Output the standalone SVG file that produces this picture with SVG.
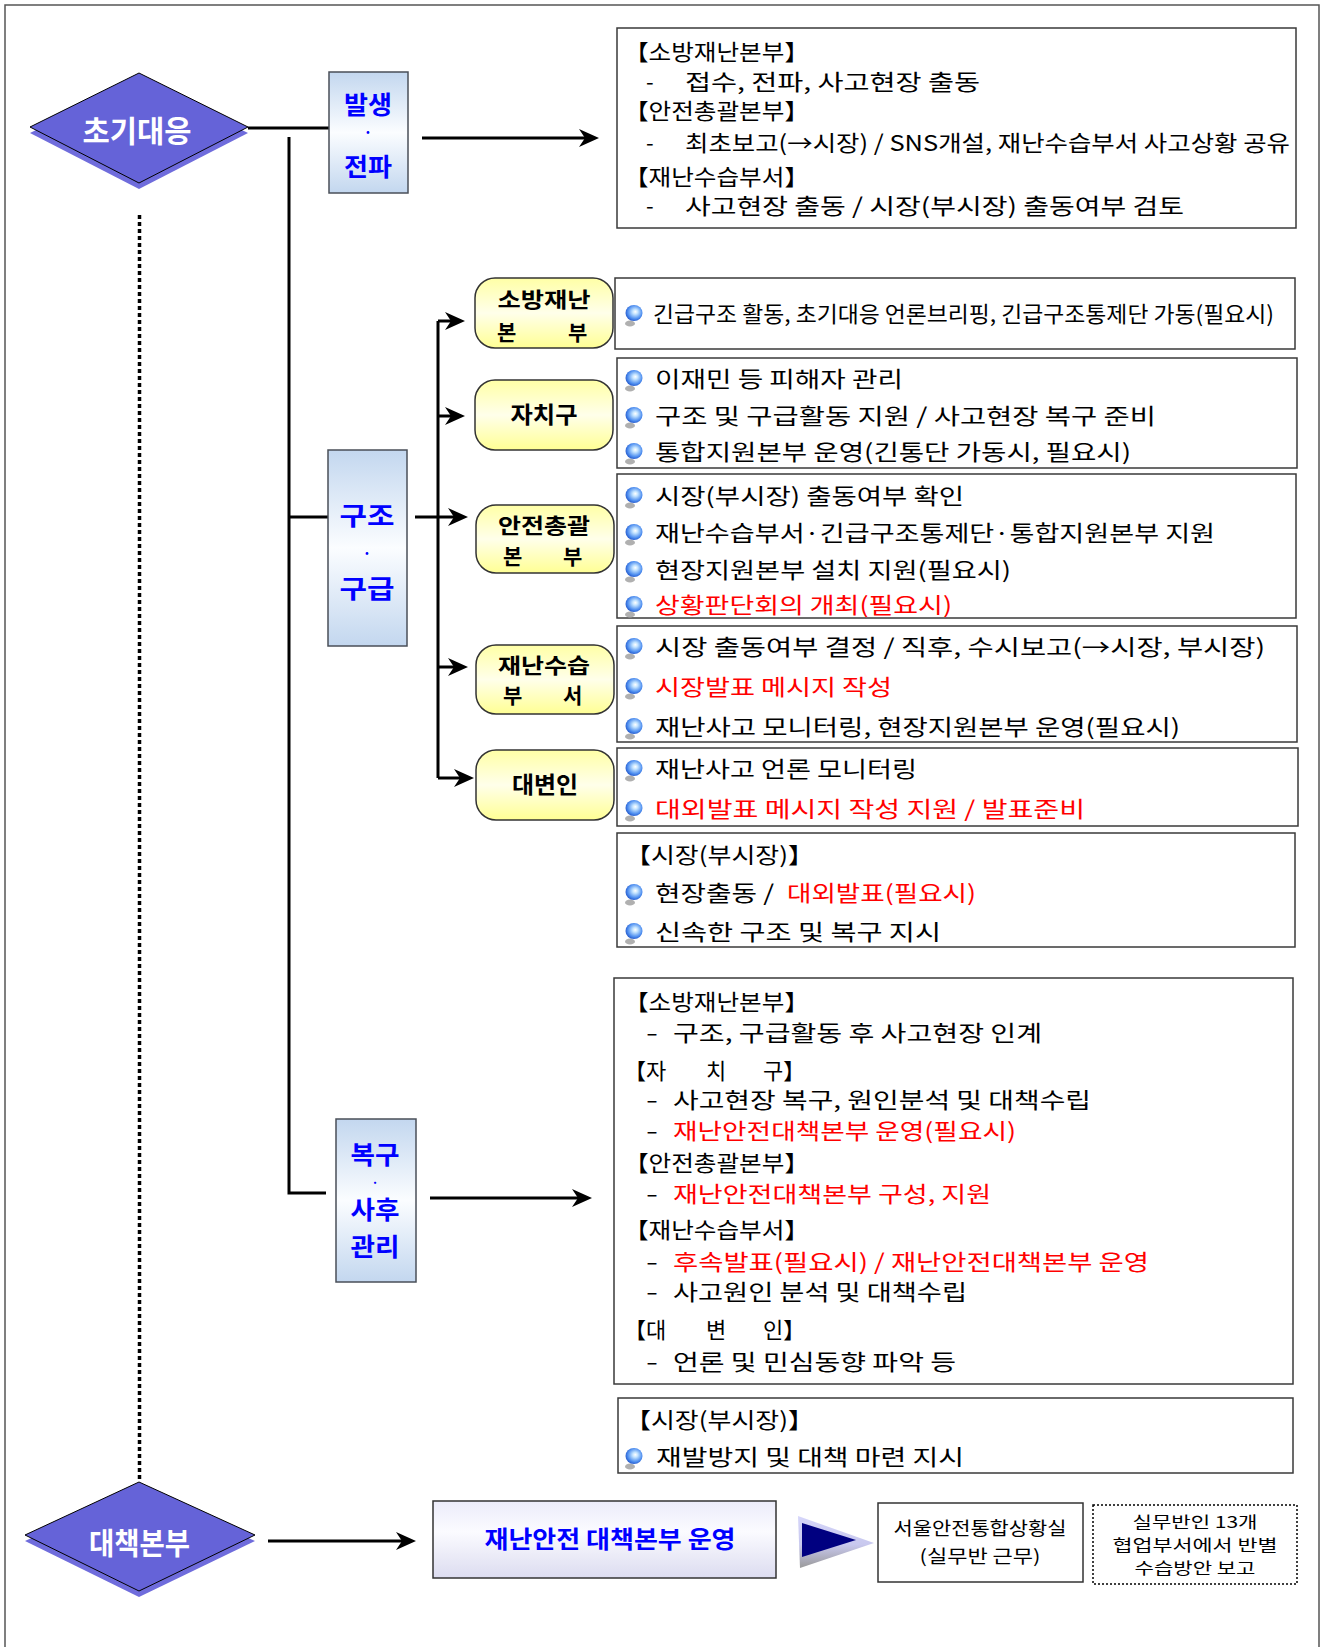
<svg xmlns="http://www.w3.org/2000/svg" xmlns:xlink="http://www.w3.org/1999/xlink" width="1321" height="1647" viewBox="0 0 1321 1647">
<style>
.t{font-family:"Noto Sans CJK KR","Noto Sans",sans-serif;font-size:22px;fill:#000}
.r{fill:#ff0000}
.box{fill:#fff;stroke:#3a3a3a;stroke-width:1.5}
.yb{fill:url(#gy);stroke:#333;stroke-width:1.5}
.bb{fill:url(#gb);stroke:#4a4f58;stroke-width:1.5}
.lb{font-family:"Noto Sans CJK KR","Noto Sans",sans-serif;font-weight:bold;font-size:23px;fill:#000}
.l2{font-size:21px}
.bl{font-family:"Noto Sans CJK KR","Noto Sans",sans-serif;font-weight:bold;font-size:25px;fill:#0000ff;text-anchor:middle}
.wt{font-family:"Noto Sans CJK KR","Noto Sans",sans-serif;font-weight:bold;font-size:30px;fill:#fff;text-anchor:middle}
.ln{stroke:#000;stroke-width:3;fill:none}
.ar{marker-end:url(#ah)}
.m{text-anchor:middle}
</style>
<defs>
<linearGradient id="gb" x1="0" y1="0" x2="0" y2="1"><stop offset="0" stop-color="#c3d7ef"/><stop offset="0.5" stop-color="#fbfdff"/><stop offset="1" stop-color="#c3d7ef"/></linearGradient>
<linearGradient id="gy" x1="0" y1="0" x2="0" y2="1"><stop offset="0" stop-color="#ffffa6"/><stop offset="0.5" stop-color="#ffffea"/><stop offset="1" stop-color="#ffff94"/></linearGradient>
<linearGradient id="gl" x1="0" y1="0" x2="0" y2="1"><stop offset="0" stop-color="#ececfa"/><stop offset="0.4" stop-color="#fbfbff"/><stop offset="1" stop-color="#dcdcf0"/></linearGradient>
<linearGradient id="gt" x1="0" y1="0" x2="0" y2="1"><stop offset="0" stop-color="#d6d6fa"/><stop offset="0.55" stop-color="#c8c8ee"/><stop offset="1" stop-color="#9a9a9a"/></linearGradient>
<radialGradient id="gs" cx="0.55" cy="0.45" r="0.6" fx="0.58" fy="0.42"><stop offset="0" stop-color="#ffffff"/><stop offset="0.25" stop-color="#c4e4ff"/><stop offset="0.7" stop-color="#4f8ff0"/><stop offset="1" stop-color="#1d4fc4"/></radialGradient>
<g id="bu"><ellipse cx="-4" cy="10.5" rx="5" ry="3" fill="#b0b0b0"/><ellipse rx="8.5" ry="8" fill="url(#gs)"/></g>
<marker id="ah" markerUnits="userSpaceOnUse" markerWidth="20" markerHeight="22" viewBox="0 0 20 22" refX="12" refY="11" orient="auto"><path d="M0,2 L20,11 L0,20 L6,11 z" fill="#000"/></marker>
</defs>

<g id="frame" fill="none" stroke="#555" stroke-width="1.5">
<path d="M5,1647 V5 H1319 V1647"/>
</g>

<g id="connectors">
<path class="ln" d="M248,128 H329"/>
<path class="ln" d="M289,137 V1193 H326"/>
<path class="ln" d="M289,517 H328"/>
<path class="ln ar" d="M422,138 H591"/>
<path class="ln ar" d="M415,517 H460"/>
<path class="ln" d="M438,321 V778"/>
<path class="ln ar" d="M438,321 H457"/>
<path class="ln ar" d="M438,416 H457"/>
<path class="ln ar" d="M438,667 H460"/>
<path class="ln ar" d="M438,778 H466"/>
<path class="ln ar" d="M430,1198 H584"/>
<path class="ln ar" d="M268,1541 H408"/>
<path d="M139.5,215 V1480" stroke="#000" stroke-width="3.5" stroke-dasharray="4,3" fill="none"/>
</g>

<g id="n-chogi">
<polygon points="139,79 248,133 139,189 30,133" fill="#6f6cdc"/>
<polygon points="139,73 248,127 139,183 30,127" fill="#6563d8" stroke="#000" stroke-width="1"/>
<text class="wt" x="137" y="142" textLength="109" lengthAdjust="spacingAndGlyphs">초기대응</text>
</g>

<g id="n-balsaeng">
<rect class="bb" x="329" y="72" width="79" height="121"/>
<text class="bl"><tspan x="368" y="114" textLength="48" lengthAdjust="spacingAndGlyphs">발생</tspan><tspan x="368" y="138" style="font-size:15px">·</tspan><tspan x="368" y="176" textLength="48" lengthAdjust="spacingAndGlyphs">전파</tspan></text>
</g>

<g id="n-b1">
<rect class="box" x="617" y="28" width="679" height="200"/>
<text class="t" x="624" y="59.5" textLength="185" lengthAdjust="spacingAndGlyphs">【소방재난본부】</text>
<text class="t" x="646" y="89.5">-</text>
<text class="t" x="685" y="89.5" textLength="295" lengthAdjust="spacingAndGlyphs">접수, 전파, 사고현장 출동</text>
<text class="t" x="624" y="118.5" textLength="185" lengthAdjust="spacingAndGlyphs">【안전총괄본부】</text>
<text class="t" x="646" y="150.5">-</text>
<text class="t" x="685" y="150.5" textLength="605" lengthAdjust="spacingAndGlyphs">최초보고(→시장) / SNS개설, 재난수습부서 사고상황 공유</text>
<text class="t" x="624" y="184.5" textLength="185" lengthAdjust="spacingAndGlyphs">【재난수습부서】</text>
<text class="t" x="646" y="213.5">-</text>
<text class="t" x="685" y="213.5" textLength="499" lengthAdjust="spacingAndGlyphs">사고현장 출동 / 시장(부시장) 출동여부 검토</text>
</g>

<g id="n-gujo">
<rect class="bb" x="328" y="450" width="79" height="196"/>
<text class="bl"><tspan x="367" y="525" textLength="55" lengthAdjust="spacingAndGlyphs">구조</tspan><tspan x="367" y="559" style="font-size:15px">·</tspan><tspan x="367" y="598" textLength="55" lengthAdjust="spacingAndGlyphs">구급</tspan></text>
</g>

<g id="n-sobang">
<rect class="yb" x="475" y="278" width="138" height="70" rx="20"/>
<text class="lb l2"><tspan class="m" x="544" y="307" textLength="93" lengthAdjust="spacingAndGlyphs">소방재난</tspan><tspan x="497" y="340">본</tspan><tspan x="568" y="340">부</tspan></text>
</g>
<g id="n-sobang-txt">
<rect class="box" x="615" y="278" width="680" height="71"/>
<use xlink:href="#bu" href="#bu" x="634" y="313"/>
<text class="t" x="653" y="321.5" textLength="621" lengthAdjust="spacingAndGlyphs">긴급구조 활동, 초기대응 언론브리핑, 긴급구조통제단 가동(필요시)</text>
</g>

<g id="n-jachigu">
<rect class="yb" x="475" y="380" width="138" height="70" rx="20"/>
<text class="lb m" x="544" y="423" textLength="67" lengthAdjust="spacingAndGlyphs">자치구</text>
</g>
<g id="n-jachigu-txt">
<rect class="box" x="617" y="358" width="680" height="110"/>
<use xlink:href="#bu" href="#bu" x="634" y="378"/>
<use xlink:href="#bu" href="#bu" x="634" y="415"/>
<use xlink:href="#bu" href="#bu" x="634" y="451"/>
<text class="t" x="655" y="386.5" textLength="248" lengthAdjust="spacingAndGlyphs">이재민 등 피해자 관리</text>
<text class="t" x="655" y="423.5" textLength="501" lengthAdjust="spacingAndGlyphs">구조 및 구급활동 지원 / 사고현장 복구 준비</text>
<text class="t" x="655" y="459.5" textLength="476" lengthAdjust="spacingAndGlyphs">통합지원본부 운영(긴통단 가동시, 필요시)</text>
</g>

<g id="n-anjeon">
<rect class="yb" x="476" y="505" width="138" height="68" rx="20"/>
<text class="lb l2"><tspan class="m" x="544" y="533" textLength="92" lengthAdjust="spacingAndGlyphs">안전총괄</tspan><tspan x="503" y="564">본</tspan><tspan x="563" y="564">부</tspan></text>
</g>
<g id="n-anjeon-txt">
<rect class="box" x="617" y="474" width="679" height="144"/>
<use xlink:href="#bu" href="#bu" x="634" y="495"/>
<use xlink:href="#bu" href="#bu" x="634" y="532"/>
<use xlink:href="#bu" href="#bu" x="634" y="569"/>
<use xlink:href="#bu" href="#bu" x="634" y="604"/>
<text class="t" x="655" y="503.5" textLength="309" lengthAdjust="spacingAndGlyphs">시장(부시장) 출동여부 확인</text>
<text class="t" x="655" y="540.5" textLength="560" lengthAdjust="spacingAndGlyphs">재난수습부서·긴급구조통제단·통합지원본부 지원</text>
<text class="t" x="655" y="577.5" textLength="356" lengthAdjust="spacingAndGlyphs">현장지원본부 설치 지원(필요시)</text>
<text class="t r" x="655" y="612.5" textLength="297" lengthAdjust="spacingAndGlyphs">상황판단회의 개최(필요시)</text>
</g>

<g id="n-susup">
<rect class="yb" x="476" y="645" width="138" height="69" rx="20"/>
<text class="lb l2"><tspan class="m" x="544" y="673" textLength="92" lengthAdjust="spacingAndGlyphs">재난수습</tspan><tspan x="503" y="703">부</tspan><tspan x="563" y="703">서</tspan></text>
</g>
<g id="n-susup-txt">
<rect class="box" x="617" y="626" width="680" height="116"/>
<use xlink:href="#bu" href="#bu" x="634" y="646"/>
<use xlink:href="#bu" href="#bu" x="634" y="686"/>
<use xlink:href="#bu" href="#bu" x="634" y="726"/>
<text class="t" x="655" y="654.5" textLength="610" lengthAdjust="spacingAndGlyphs">시장 출동여부 결정 / 직후, 수시보고(→시장, 부시장)</text>
<text class="t r" x="655" y="694.5" textLength="237" lengthAdjust="spacingAndGlyphs">시장발표 메시지 작성</text>
<text class="t" x="655" y="734.5" textLength="525" lengthAdjust="spacingAndGlyphs">재난사고 모니터링, 현장지원본부 운영(필요시)</text>
</g>

<g id="n-daebyeon">
<rect class="yb" x="476" y="750" width="138" height="70" rx="20"/>
<text class="lb m" x="545" y="793" textLength="66" lengthAdjust="spacingAndGlyphs">대변인</text>
</g>
<g id="n-daebyeon-txt">
<rect class="box" x="617" y="748" width="681" height="78"/>
<use xlink:href="#bu" href="#bu" x="634" y="768"/>
<use xlink:href="#bu" href="#bu" x="634" y="808"/>
<text class="t" x="655" y="776.5" textLength="262" lengthAdjust="spacingAndGlyphs">재난사고 언론 모니터링</text>
<text class="t r" x="655" y="816.5" textLength="430" lengthAdjust="spacingAndGlyphs">대외발표 메시지 작성 지원 / 발표준비</text>
</g>

<g id="n-sijang1">
<rect class="box" x="617" y="833" width="678" height="114"/>
<text class="t" x="625" y="862.5" textLength="189" lengthAdjust="spacingAndGlyphs">【시장(부시장)】</text>
<use xlink:href="#bu" href="#bu" x="634" y="892"/>
<use xlink:href="#bu" href="#bu" x="634" y="931"/>
<text class="t" x="655" y="900.5" textLength="119" lengthAdjust="spacingAndGlyphs">현장출동 /</text>
<text class="t r" x="787" y="900.5" textLength="189" lengthAdjust="spacingAndGlyphs">대외발표(필요시)</text>
<text class="t" x="655" y="939.5" textLength="286" lengthAdjust="spacingAndGlyphs">신속한 구조 및 복구 지시</text>
</g>

<g id="n-bokgu">
<rect class="bb" x="336" y="1119" width="80" height="163"/>
<text class="bl"><tspan x="375" y="1164" textLength="49" lengthAdjust="spacingAndGlyphs">복구</tspan><tspan x="375" y="1187" style="font-size:12px">·</tspan><tspan x="375" y="1219" textLength="49" lengthAdjust="spacingAndGlyphs">사후</tspan><tspan x="375" y="1256" textLength="49" lengthAdjust="spacingAndGlyphs">관리</tspan></text>
</g>

<g id="n-bokgu-txt">
<rect class="box" x="614" y="978" width="679" height="406"/>
<text class="t" x="624" y="1009.5" textLength="185" lengthAdjust="spacingAndGlyphs">【소방재난본부】</text>
<text class="t" x="646" y="1040.5" textLength="12" lengthAdjust="spacingAndGlyphs">-</text>
<text class="t" x="673" y="1040.5" textLength="369" lengthAdjust="spacingAndGlyphs">구조, 구급활동 후 사고현장 인계</text>
<text class="t" y="1078.5"><tspan x="624">【자</tspan><tspan x="706">치</tspan><tspan x="763">구】</tspan></text>
<text class="t" x="646" y="1107.5" textLength="12" lengthAdjust="spacingAndGlyphs">-</text>
<text class="t" x="673" y="1107.5" textLength="418" lengthAdjust="spacingAndGlyphs">사고현장 복구, 원인분석 및 대책수립</text>
<text class="t" x="646" y="1138.5" textLength="12" lengthAdjust="spacingAndGlyphs">-</text>
<text class="t r" x="673" y="1138.5" textLength="343" lengthAdjust="spacingAndGlyphs">재난안전대책본부 운영(필요시)</text>
<text class="t" x="624" y="1170.5" textLength="185" lengthAdjust="spacingAndGlyphs">【안전총괄본부】</text>
<text class="t" x="646" y="1201.5" textLength="12" lengthAdjust="spacingAndGlyphs">-</text>
<text class="t r" x="673" y="1201.5" textLength="318" lengthAdjust="spacingAndGlyphs">재난안전대책본부 구성, 지원</text>
<text class="t" x="624" y="1237.5" textLength="185" lengthAdjust="spacingAndGlyphs">【재난수습부서】</text>
<text class="t" x="646" y="1269.5" textLength="12" lengthAdjust="spacingAndGlyphs">-</text>
<text class="t r" x="673" y="1269.5" textLength="476" lengthAdjust="spacingAndGlyphs">후속발표(필요시) / 재난안전대책본부 운영</text>
<text class="t" x="646" y="1299.5" textLength="12" lengthAdjust="spacingAndGlyphs">-</text>
<text class="t" x="673" y="1299.5" textLength="294" lengthAdjust="spacingAndGlyphs">사고원인 분석 및 대책수립</text>
<text class="t" y="1337.5"><tspan x="624">【대</tspan><tspan x="706">변</tspan><tspan x="763">인】</tspan></text>
<text class="t" x="646" y="1369.5" textLength="12" lengthAdjust="spacingAndGlyphs">-</text>
<text class="t" x="673" y="1369.5" textLength="283" lengthAdjust="spacingAndGlyphs">언론 및 민심동향 파악 등</text>
</g>

<g id="n-sijang2">
<rect class="box" x="618" y="1398" width="675" height="75"/>
<text class="t" x="625" y="1427.5" textLength="189" lengthAdjust="spacingAndGlyphs">【시장(부시장)】</text>
<use xlink:href="#bu" href="#bu" x="634" y="1456"/>
<text class="t" x="656" y="1464.5" textLength="308" lengthAdjust="spacingAndGlyphs">재발방지 및 대책 마련 지시</text>
</g>

<g id="n-daechaek">
<polygon points="139,1488 255,1541 139,1597 25,1541" fill="#6f6cdc"/>
<polygon points="139,1482 255,1535 139,1591 25,1535" fill="#6563d8" stroke="#000" stroke-width="1"/>
<text class="wt" x="139.5" y="1554" textLength="101" lengthAdjust="spacingAndGlyphs">대책본부</text>
</g>

<g id="n-unyeong">
<rect x="433" y="1501" width="343" height="77" fill="url(#gl)" stroke="#333" stroke-width="1.5"/>
<text class="bl" x="610" y="1548" style="font-size:24px" textLength="251" lengthAdjust="spacingAndGlyphs">재난안전 대책본부 운영</text>
</g>

<g id="n-triangle">
<polygon points="798,1516 874,1543 800,1568" fill="url(#gt)"/>
<polygon points="802,1523 856,1540 802,1557" fill="#000080"/>
</g>

<g id="n-seoul">
<rect x="878" y="1503" width="205" height="79" fill="#fff" stroke="#333" stroke-width="1.5"/>
<text class="t m" style="font-size:18px"><tspan x="980" y="1535" textLength="173" lengthAdjust="spacingAndGlyphs">서울안전통합상황실</tspan><tspan x="980" y="1563" textLength="121" lengthAdjust="spacingAndGlyphs">(실무반 근무)</tspan></text>
</g>

<g id="n-silmu">
<rect x="1093" y="1505" width="204" height="79" fill="#fff" stroke="#000" stroke-width="1.5" stroke-dasharray="2,2"/>
<text class="t m" style="font-size:16px"><tspan x="1195" y="1528" textLength="125" lengthAdjust="spacingAndGlyphs">실무반인 13개</tspan><tspan x="1195" y="1551" textLength="165" lengthAdjust="spacingAndGlyphs">협업부서에서 반별</tspan><tspan x="1195" y="1574" textLength="121" lengthAdjust="spacingAndGlyphs">수습방안 보고</tspan></text>
</g>
</svg>
